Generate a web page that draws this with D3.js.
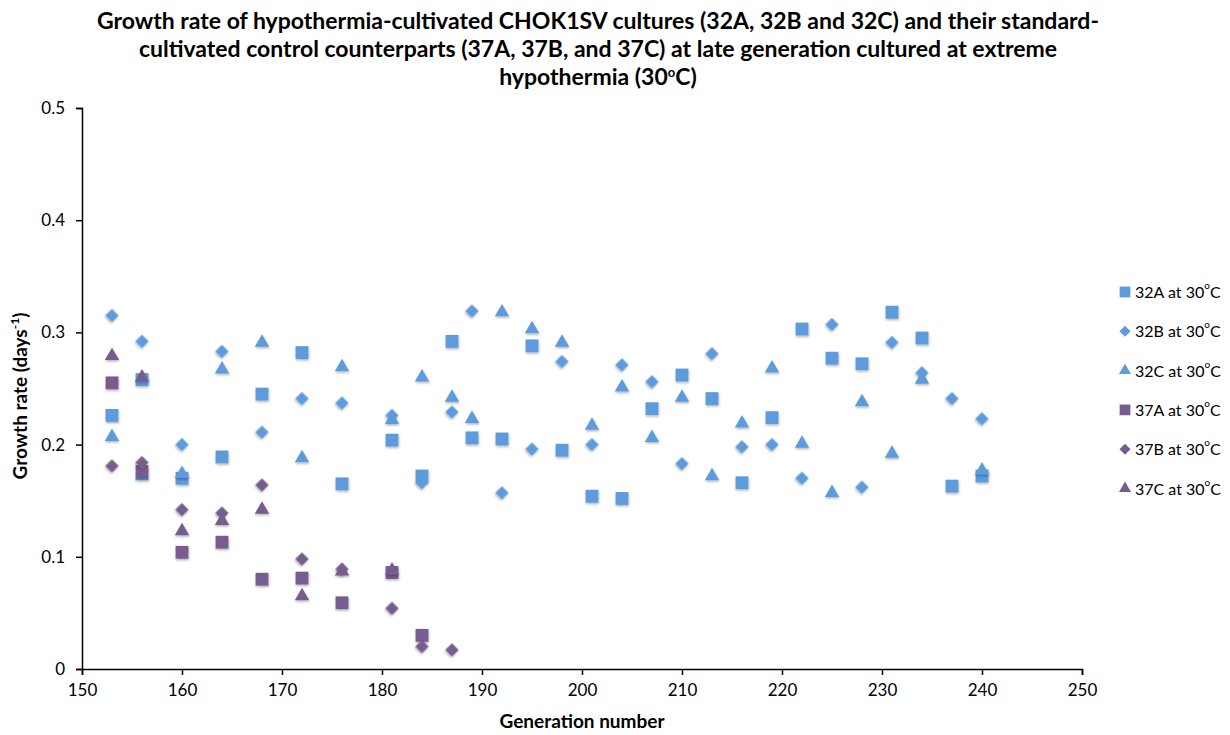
<!DOCTYPE html>
<meta charset="utf-8">
<style>

body {
  margin: 0;
  background: #fff;
}

text {
  font-family: Lato, "Open Sans", sans-serif;
  fill: #000;
}

.title {
  font-size: 23px;
  font-weight: bold;
}

.axis path,
.axis line {
  stroke: #000;
  stroke-width: 1.5px;
}

.label {
  font-size: 19px;
  font-weight: bold;
}

.legend text {
  font-size: 16px;
}

</style>
<svg width="1230" height="735"></svg>
<script src="https://cdn.jsdelivr.net/npm/d3@7"></script>
<script>

// generation numbers shared by all series
var generations = [153, 156, 160, 164, 168, 172, 176, 181, 184, 187, 189, 192, 195, 198,
                   201, 204, 207, 210, 213, 216, 219, 222, 225, 228, 231, 234, 237, 240];

var s32A = [0.226, 0.258, 0.170, 0.189, 0.245, 0.282, 0.165, 0.204, 0.172, 0.292, 0.206, 0.205, 0.288, 0.195,
            0.154, 0.152, 0.232, 0.262, 0.241, 0.166, 0.224, 0.303, 0.277, 0.272, 0.318, 0.295, 0.163, 0.172];
var s32B = [0.315, 0.292, 0.200, 0.283, 0.211, 0.241, 0.237, 0.226, 0.166, 0.229, 0.319, 0.157, 0.196, 0.274,
            0.200, 0.271, 0.256, 0.183, 0.281, 0.198, 0.200, 0.170, 0.307, 0.162, 0.291, 0.264, 0.241, 0.223];
var s32C = [0.207, 0.172, 0.174, 0.267, 0.291, 0.188, 0.269, 0.222, 0.260, 0.242, 0.223, 0.318, 0.303, 0.291,
            0.217, 0.251, 0.206, 0.242, 0.172, 0.219, 0.268, 0.201, 0.157, 0.238, 0.192, 0.258, null, 0.177];
var s37A = [0.255, 0.176, 0.104, 0.113, 0.080, 0.081, 0.059, 0.086, 0.030];
var s37B = [0.181, 0.184, 0.142, 0.139, 0.164, 0.098, 0.089, 0.054, 0.020, 0.017];
var s37C = [0.279, 0.260, 0.123, 0.132, 0.142, 0.065, 0.087, 0.088];

var seriesNames = ["32A at 30", "32B at 30", "32C at 30", "37A at 30", "37B at 30", "37C at 30"];

var xTicks = [150, 160, 170, 180, 190, 200, 210, 220, 230, 240, 250];
var yTicks = [0, 0.1, 0.2, 0.3, 0.4, 0.5];

var titleLines = [
  "Growth rate of hypothermia-cultivated CHOK1SV cultures (32A, 32B and 32C) and their standard-",
  "cultivated control counterparts (37A, 37B, and 37C) at late generation cultured at extreme",
  "hypothermia (30"
];

var blue = "#5d9bdc",
    purple = "#775c90";

// diamonds are squares turned by 45 degrees
var series = [
  {name: seriesNames[0], values: s32A, shape: d3.symbolSquare, size: 165, rot: 0, color: blue},
  {name: seriesNames[1], values: s32B, shape: d3.symbolSquare, size: 88, rot: 45, color: blue},
  {name: seriesNames[2], values: s32C, shape: d3.symbolTriangle, size: 90, rot: 0, color: blue},
  {name: seriesNames[3], values: s37A, shape: d3.symbolSquare, size: 165, rot: 0, color: purple},
  {name: seriesNames[4], values: s37B, shape: d3.symbolSquare, size: 88, rot: 45, color: purple},
  {name: seriesNames[5], values: s37C, shape: d3.symbolTriangle, size: 90, rot: 0, color: purple}
];

var svg = d3.select("svg");

var defs = svg.append("defs");
var filter = defs.append("filter").attr("id", "shadow")
    .attr("x", "-50%").attr("y", "-50%").attr("width", "200%").attr("height", "200%");
filter.append("feDropShadow")
    .attr("dx", 0.5).attr("dy", 1.5).attr("stdDeviation", 1.2)
    .attr("flood-color", "#000").attr("flood-opacity", 0.3);

var x = d3.scaleLinear().domain([150, 250]).range([82, 1082]);
var y = d3.scaleLinear().domain([0, 0.5]).range([669, 108]);

// title
var title = svg.append("text")
    .attr("class", "title")
    .attr("text-anchor", "middle");

title.selectAll("tspan")
    .data(titleLines)
  .enter().append("tspan")
    .attr("x", 598)
    .attr("y", function(d, i) { return 29 + i * 28; })
    .text(function(d) { return d; });

title.append("tspan")
    .attr("font-size", "13px")
    .attr("dy", -8)
    .text("o");
title.append("tspan")
    .attr("dy", 8)
    .text("C)");

// axes
svg.append("g")
    .attr("class", "axis")
    .attr("transform", "translate(0,669)")
    .call(d3.axisBottom(x).tickValues(xTicks).tickSize(6).tickSizeOuter(6).tickPadding(9).tickFormat(d3.format("d")));

svg.append("g")
    .attr("class", "axis")
    .attr("transform", "translate(82,0)")
    .call(d3.axisLeft(y).tickValues(yTicks).tickSize(6).tickSizeOuter(6).tickPadding(11)
      .tickFormat(function(d) { return d === 0 ? "0" : d3.format(".1f")(d); }));

svg.selectAll(".axis text")
    .attr("font-family", "Lato, sans-serif")
    .attr("font-size", "17px");

// axis titles
svg.append("text")
    .attr("class", "label")
    .attr("text-anchor", "middle")
    .attr("x", 582)
    .attr("y", 728)
    .text("Generation number");

var yl = svg.append("text")
    .attr("class", "label")
    .attr("text-anchor", "middle")
    .attr("transform", "translate(27,396) rotate(-90)");
yl.append("tspan").text("Growth rate (days");
yl.append("tspan").attr("font-size", "12px").attr("dy", -8).text("-1");
yl.append("tspan").attr("dy", 8).text(")");

// points
var plot = svg.append("g");

series.forEach(function(s) {
  var pts = s.values.map(function(v, i) { return {g: generations[i], v: v}; })
      .filter(function(d) { return d.v !== null; });
  plot.selectAll(null)
      .data(pts)
    .enter().append("path")
      .attr("d", d3.symbol().type(s.shape).size(s.size))
      .attr("transform", function(d) { return "translate(" + x(d.g) + "," + y(d.v) + ") rotate(" + s.rot + ")"; })
      .attr("fill", s.color)
      .attr("filter", "url(#shadow)");
});

// legend
var legend = svg.append("g")
    .attr("class", "legend")
    .selectAll("g")
    .data(series)
  .enter().append("g")
    .attr("transform", function(d, i) { return "translate(1125," + (292 + i * 39.3) + ")"; });

legend.append("path")
    .attr("d", function(d) { return d3.symbol().type(d.shape).size(d.size * 0.7)(); })
    .attr("transform", function(d) { return "rotate(" + d.rot + ")"; })
    .attr("fill", function(d) { return d.color; });

var lt = legend.append("text")
    .attr("x", 10)
    .attr("y", 6);
lt.append("tspan").text(function(d) { return d.name; });
lt.append("tspan").attr("font-size", "10px").attr("dy", -9).text("o");
lt.append("tspan").attr("dy", 9).text("C");

</script>
